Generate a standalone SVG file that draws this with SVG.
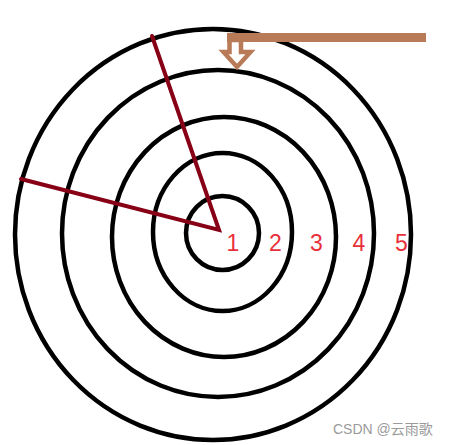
<svg xmlns="http://www.w3.org/2000/svg" width="450" height="445" viewBox="0 0 450 445">
<style>
.ring{fill:none;stroke:#000;stroke-width:4.5}
.radius{stroke:#880015;stroke-width:4;stroke-linecap:round;fill:none}
.num{font-family:"Liberation Sans",Arial,sans-serif;font-size:23px;fill:#E8303A;text-anchor:middle}
.mark{font-family:"Liberation Sans","Noto Sans CJK SC",sans-serif;font-size:14px;fill:#9a9a9a}
</style>
<rect width="450" height="445" fill="#fff"/>
<g id="rings">
<ellipse class="ring" cx="213" cy="234.5" rx="198" ry="205.5"/>
<ellipse class="ring" cx="218" cy="233.5" rx="156" ry="163.5"/>
<ellipse class="ring" cx="224" cy="237" rx="112" ry="120"/>
<ellipse class="ring" cx="222.5" cy="232" rx="69.5" ry="79"/>
<ellipse class="ring" cx="222.5" cy="233" rx="36.5" ry="37"/>
</g>
<g id="connectors">
<path class="radius" d="M152,36 L219,230 L21,179"/>
</g>
<g id="pointer">
<rect x="227" y="33" width="199" height="9" fill="#B97A57"/>
<polygon points="229.5,40 229.5,52 223.5,52 237,67 250.5,52 241,52 241,40" fill="#fff" stroke="#B97A57" stroke-width="4.5" stroke-linejoin="miter"/>
<rect x="227" y="33" width="16" height="7" fill="#B97A57"/>
</g>
<g id="labels">
<text class="num" x="233" y="250.5">1</text>
<text class="num" x="275.5" y="250.5">2</text>
<text class="num" x="316.5" y="250.5">3</text>
<text class="num" x="359" y="250.5">4</text>
<text class="num" x="401.5" y="250.5">5</text>
</g>
<text class="mark" x="333" y="434">CSDN @云雨歌</text>
</svg>
